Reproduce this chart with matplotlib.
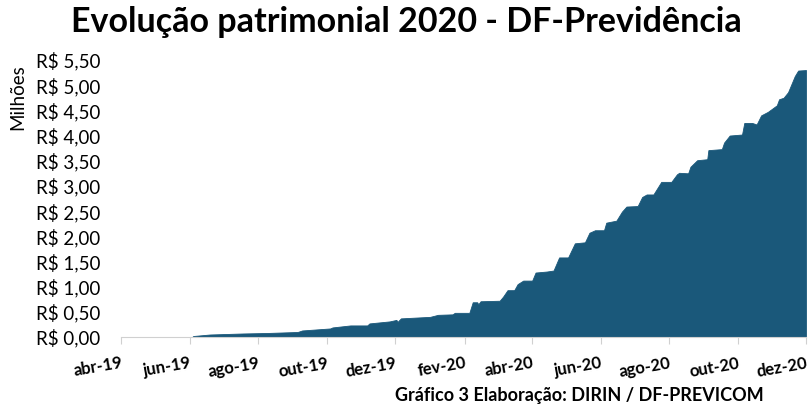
import pandas as pd
import matplotlib.pyplot as plt
import matplotlib.dates as mdates

plt.rcParams['font.family'] = ['Lato', 'DejaVu Sans']

# patrimonio (R$ milhoes)
dates = ['2019-06-03', '2019-06-04', '2019-06-19', '2019-07-18', '2019-08-09', '2019-09-05',
         '2019-09-09', '2019-10-04', '2019-10-06', '2019-10-22', '2019-11-06', '2019-11-08',
         '2019-11-26', '2019-12-02', '2019-12-03', '2019-12-06', '2020-01-01', '2020-01-08',
         '2020-01-21', '2020-01-23', '2020-02-05', '2020-02-08', '2020-02-12', '2020-02-13',
         '2020-02-15', '2020-03-03', '2020-03-06', '2020-03-10', '2020-03-16', '2020-03-19',
         '2020-03-24', '2020-04-01', '2020-04-04', '2020-04-14', '2020-04-20', '2020-04-25',
         '2020-05-03', '2020-05-09', '2020-05-18', '2020-05-22', '2020-05-27', '2020-06-04',
         '2020-06-06', '2020-06-15', '2020-06-20', '2020-06-24', '2020-07-04', '2020-07-08',
         '2020-07-12', '2020-07-18', '2020-07-25', '2020-08-03', '2020-08-08', '2020-08-10',
         '2020-08-18', '2020-08-20', '2020-08-26', '2020-09-04', '2020-09-05', '2020-09-17',
         '2020-09-19', '2020-09-24', '2020-10-05', '2020-10-07', '2020-10-14', '2020-10-18',
         '2020-10-22', '2020-10-28', '2020-11-05', '2020-11-07', '2020-11-11', '2020-11-15',
         '2020-11-21', '2020-11-24', '2020-12-01']
values = [0.00, 0.02, 0.05, 0.07, 0.08, 0.10,
          0.13, 0.17, 0.19, 0.23, 0.23, 0.27,
          0.31, 0.34, 0.30, 0.37, 0.40, 0.44,
          0.45, 0.48, 0.48, 0.69, 0.69, 0.65,
          0.71, 0.72, 0.80, 0.93, 0.93, 1.05,
          1.12, 1.12, 1.28, 1.30, 1.32, 1.58,
          1.58, 1.86, 1.88, 2.07, 2.12, 2.12,
          2.27, 2.31, 2.49, 2.59, 2.60, 2.78,
          2.83, 2.83, 3.08, 3.08, 3.23, 3.26,
          3.25, 3.38, 3.51, 3.53, 3.71, 3.73,
          3.86, 4.00, 4.02, 4.25, 4.25, 4.22,
          4.40, 4.47, 4.60, 4.72, 4.75, 4.86,
          5.18, 5.29, 5.30]

x_ticks = ['2019-04-01', '2019-06-01', '2019-08-01', '2019-10-01', '2019-12-01', '2020-02-01',
           '2020-04-01', '2020-06-01', '2020-08-01', '2020-10-01', '2020-12-01']
x_labels = ['abr-19', 'jun-19', 'ago-19', 'out-19', 'dez-19', 'fev-20',
            'abr-20', 'jun-20', 'ago-20', 'out-20', 'dez-20']
y_ticks = [0, 0.5, 1.0, 1.5, 2.0, 2.5, 3.0, 3.5, 4.0, 4.5, 5.0, 5.5]
y_labels = ['R$ 0,00', 'R$ 0,50', 'R$ 1,00', 'R$ 1,50', 'R$ 2,00', 'R$ 2,50',
            'R$ 3,00', 'R$ 3,50', 'R$ 4,00', 'R$ 4,50', 'R$ 5,00', 'R$ 5,50']

df = pd.DataFrame({'data': pd.to_datetime(dates), 'valor': values})

fig = plt.figure(figsize=(8.12, 4.08), dpi=100)
ax = fig.add_axes([0.1496, 0.174, 0.843, 0.679])

ax.fill_between(df['data'], df['valor'], 0, color='#1A587A', linewidth=0.6, edgecolor='#1A587A')

ax.set_xlim(pd.Timestamp('2019-04-01'), pd.Timestamp('2020-12-01'))
ax.set_ylim(0, 5.5)

ax.set_xticks(pd.to_datetime(x_ticks))
ax.set_xticklabels(x_labels, rotation=10, ha='right', rotation_mode='anchor',
                   fontsize=12, fontweight='bold')
ax.set_yticks(y_ticks)
ax.set_yticklabels(y_labels, fontsize=13.5)

for s in ['top', 'right', 'left']:
    ax.spines[s].set_visible(False)
ax.spines['bottom'].set_color('#d0d0d0')
ax.tick_params(axis='y', length=0, pad=15)
ax.tick_params(axis='x', length=5, color='#d0d0d0', pad=8)

fig.text(0.5, 0.945, 'Evolução patrimonial 2020 - DF-Previdência', ha='center', va='center',
         fontsize=24.5, fontweight='bold')
fig.text(0.022, 0.762, 'Milhões', rotation=90, ha='center', va='center', fontsize=13.5)
fig.text(0.94, 0.03, 'Gráfico 3 Elaboração: DIRIN / DF-PREVICOM', ha='right', va='center',
         fontsize=13, fontweight='bold')

fig.savefig('out.png', dpi=100)
